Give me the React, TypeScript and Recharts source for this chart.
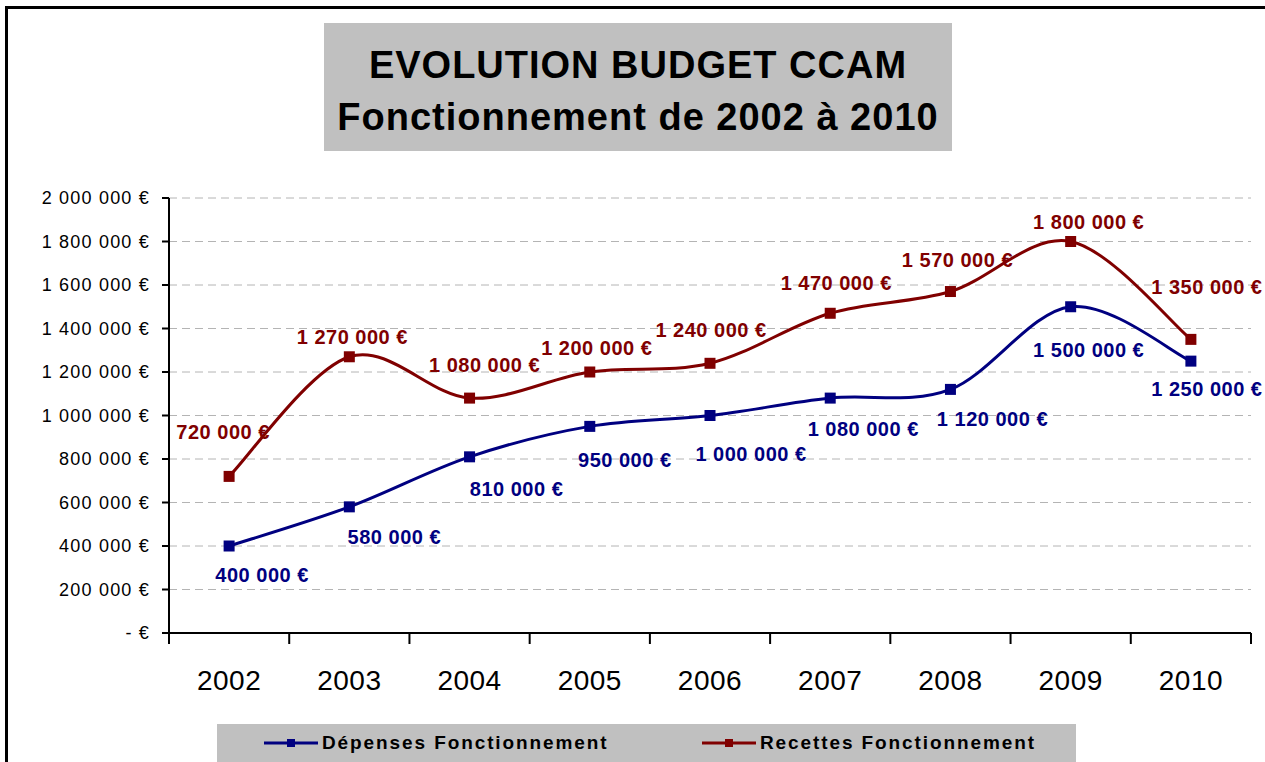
import React from "react";
import { LineChart, Line, XAxis, YAxis, CartesianGrid, LabelList } from "recharts";

const years = ["2002", "2003", "2004", "2005", "2006", "2007", "2008", "2009", "2010"];
const depenses = [400000, 580000, 810000, 950000, 1000000, 1080000, 1120000, 1500000, 1250000];
const recettes = [720000, 1270000, 1080000, 1200000, 1240000, 1470000, 1570000, 1800000, 1350000];
const yTicks = [0, 200000, 400000, 600000, 800000, 1000000, 1200000, 1400000, 1600000, 1800000, 2000000];
const seriesNames = ["Dépenses Fonctionnement", "Recettes Fonctionnement"];
const titleLines = ["EVOLUTION BUDGET CCAM", "Fonctionnement de 2002 à 2010"];

// label offsets (style, not data)
const redOffsets = [[-6, -44], [3, -20], [15, -33], [7, -24], [1, -33], [6, -30], [7, -32], [18, -20], [16, -52]];
const blueOffsets = [[33, 29], [45, 30], [47, 32], [35, 34], [41, 38], [33, 31], [42, 30], [18, 43], [16, 28]];

const data = years.map((y, i) => ({ year: y, dep: depenses[i], rec: recettes[i] }));

const FONT = "'Liberation Sans', Arial, Helvetica, sans-serif";
const RED = "#800000";
const BLUE = "#000080";
const W = 1265;
const H = 762;
const XH = 60;
const M = { top: 198, right: 14, bottom: 129 - XH, left: 0 };
const YW = 169;
const PLOT_W = W - M.right - YW;
const HALF = PLOT_W / years.length / 2;

const fmt = (v: number) => {
  if (v === 0) return "- €";
  return String(v).replace(/\B(?=(\d{3})+(?!\d))/g, " ") + " €";
};

function excelSmooth(context: any) {
  let pts: number[][] = [];
  return {
    areaStart() {},
    areaEnd() {},
    lineStart() {
      pts = [];
    },
    point(x: number, y: number) {
      pts.push([+x, +y]);
    },
    lineEnd() {
      const n = pts.length;
      if (!n) return;
      context.moveTo(pts[0][0], pts[0][1]);
      for (let i = 0; i < n - 1; i++) {
        const p0 = pts[i - 1] || pts[i];
        const p1 = pts[i];
        const p2 = pts[i + 1];
        const p3 = pts[i + 2] || p2;
        context.bezierCurveTo(
          p1[0] + (p2[0] - p0[0]) / 6,
          p1[1] + (p2[1] - p0[1]) / 6,
          p2[0] - (p3[0] - p1[0]) / 6,
          p2[1] - (p3[1] - p1[1]) / 6,
          p2[0],
          p2[1]
        );
      }
    },
  };
}

const SquareDot = (color: string) => (props: any) => {
  const { cx, cy, index } = props;
  if (cx == null || cy == null) return <g key={index} />;
  return <rect key={index} x={cx - 5.5} y={cy - 5.5} width={11} height={11} fill={color} />;
};

const makeLabel = (color: string, offsets: number[][]) => (props: any) => {
  const { x, y, value, index } = props;
  const o = offsets[index] || [0, -20];
  return (
    <text
      x={x + o[0]}
      y={y + o[1]}
      textAnchor="middle"
      dominantBaseline="central"
      fill={color}
      fontFamily={FONT}
      fontWeight="bold"
      fontSize={20}
      letterSpacing={0.5}
    >
      {fmt(value)}
    </text>
  );
};

const XTick = (props: any) => {
  const { x, y, payload, index } = props;
  return (
    <g>
      <line x1={x - HALF} x2={x - HALF} y1={y} y2={y + 11} stroke="#000" strokeWidth={2} />
      {index === years.length - 1 && (
        <line x1={x + HALF} x2={x + HALF} y1={y} y2={y + 11} stroke="#000" strokeWidth={2} />
      )}
      <text x={x} y={y + 57} textAnchor="middle" fontFamily={FONT} fontSize={28} fill="#000" letterSpacing={0.5}>
        {payload.value}
      </text>
    </g>
  );
};

const LegendItem = ({ color, name, left }: { color: string; name: string; left: number }) => (
  <div style={{ position: "absolute", left, top: 0, height: 38, display: "flex", alignItems: "center" }}>
    <svg width={56} height={12} style={{ display: "block" }}>
      <line x1={0} x2={54} y1={6} y2={6} stroke={color} strokeWidth={3} />
      <rect x={23} y={2} width={8} height={8} fill={color} />
    </svg>
    <span
      style={{
        fontFamily: FONT,
        fontWeight: "bold",
        fontSize: 19,
        letterSpacing: 1.9,
        color: "#000",
        marginLeft: 2,
      }}
    >
      {name}
    </span>
  </div>
);

export default function App() {
  return (
    <div style={{ position: "absolute", left: 0, top: 0, width: W, height: H, overflow: "hidden", background: "#fff" }}>
      <div
        style={{
          position: "absolute",
          left: 5,
          top: 6,
          width: W + 20,
          height: H + 20,
          borderLeft: "3px solid #000",
          borderTop: "3px solid #000",
        }}
      />
      <div
        style={{
          position: "absolute",
          left: 324,
          top: 23,
          width: 628,
          height: 128,
          background: "#c0c0c0",
          fontFamily: FONT,
          fontWeight: "bold",
          fontSize: 38,
          textAlign: "center",
          color: "#000",
          lineHeight: "52px",
          paddingTop: 16,
          boxSizing: "border-box",
          letterSpacing: 1,
        }}
      >
        <div>{titleLines[0]}</div>
        <div>{titleLines[1]}</div>
      </div>
      <div style={{ position: "absolute", left: 0, top: 0 }}>
        <LineChart width={W} height={H} data={data} margin={M}>
          <CartesianGrid vertical={false} stroke="#b4b4b4" strokeDasharray="8 5" />
          <XAxis
            dataKey="year"
            tickLine={false}
            tickSize={0}
            tickMargin={0}
            axisLine={{ stroke: "#000", strokeWidth: 2 }}
            tick={<XTick />}
            interval={0}
            height={XH}
            padding={{ left: HALF, right: HALF }}
          />
          <YAxis
            width={YW}
            domain={[0, 2000000]}
            ticks={yTicks}
            tickFormatter={fmt}
            axisLine={{ stroke: "#000", strokeWidth: 2 }}
            tickLine={{ stroke: "#000", strokeWidth: 2 }}
            tickSize={7}
            tickMargin={12}
            tick={{ fill: "#000", fontFamily: FONT, fontSize: 18, letterSpacing: 1.2 }}
            interval={0}
          />
          <Line
            dataKey="dep"
            name={seriesNames[0]}
            type={excelSmooth as any}
            stroke={BLUE}
            strokeWidth={3}
            dot={SquareDot(BLUE)}
            activeDot={false}
            isAnimationActive={false}
          >
            <LabelList dataKey="dep" content={makeLabel(BLUE, blueOffsets)} />
          </Line>
          <Line
            dataKey="rec"
            name={seriesNames[1]}
            type={excelSmooth as any}
            stroke={RED}
            strokeWidth={3}
            dot={SquareDot(RED)}
            activeDot={false}
            isAnimationActive={false}
          >
            <LabelList dataKey="rec" content={makeLabel(RED, redOffsets)} />
          </Line>
        </LineChart>
      </div>
      <div style={{ position: "absolute", left: 217, top: 724, width: 859, height: 60, background: "#c0c0c0" }}>
        <LegendItem color={BLUE} name={seriesNames[0]} left={47} />
        <LegendItem color={RED} name={seriesNames[1]} left={485} />
      </div>
    </div>
  );
}
